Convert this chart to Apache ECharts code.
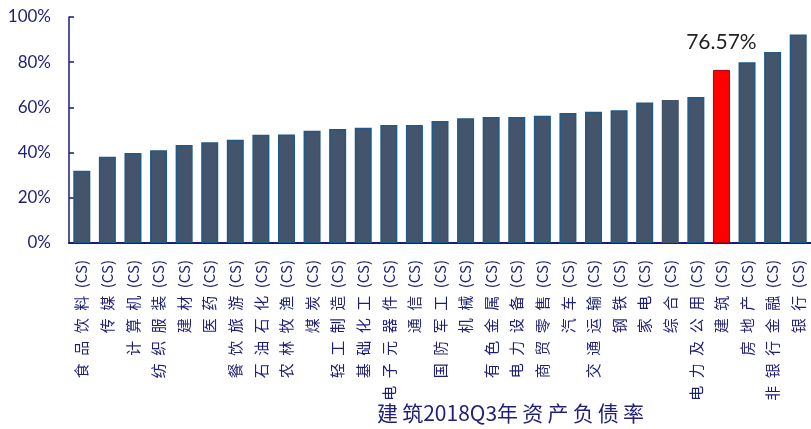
<!DOCTYPE html>
<html>
<head>
<meta charset="utf-8">
<script src="https://cdn.jsdelivr.net/npm/echarts@6/dist/echarts.min.js"></script>
<style>
  html, body { margin: 0; padding: 0; background: #fff; }
  #chart { width: 811px; height: 429px; }
</style>
</head>
<body>
<div id="chart"></div>
<script>
// 行业名称
const categories = [
  '食品饮料(CS)', '传媒(CS)', '计算机(CS)', '纺织服装(CS)', '建材(CS)', '医药(CS)',
  '餐饮旅游(CS)', '石油石化(CS)', '农林牧渔(CS)', '煤炭(CS)', '轻工制造(CS)', '基础化工(CS)',
  '电子元器件(CS)', '通信(CS)', '国防军工(CS)', '机械(CS)', '有色金属(CS)', '电力设备(CS)',
  '商贸零售(CS)', '汽车(CS)', '交通运输(CS)', '钢铁(CS)', '家电(CS)', '综合(CS)',
  '电力及公用(CS)', '建筑(CS)', '房地产(CS)', '非银行金融(CS)', '银行(CS)'
];
// 资产负债率 (%)
const debtRatio = [
  32.0, 38.2, 39.8, 41.0, 43.4, 44.6,
  45.7, 47.9, 48.0, 49.7, 50.4, 51.0,
  52.2, 52.2, 54.0, 55.2, 55.7, 55.7,
  56.3, 57.5, 58.1, 58.7, 62.2, 63.3,
  64.6, 76.57, 80.0, 84.5, 92.3
];
const yTicks = [0, 20, 40, 60, 80, 100];
const axisTitle = '建筑2018Q3年资产负债率';
const highlightName = '建筑(CS)';
const plainName = '综合(CS)';

const navy = '#1f1f7a';
const sp = '\u2002';
const thin = '\u2009';

// 中文字之间加一点间距
const spaceCjk = (s, gap) => s.replace(/([\u4e00-\u9fa5])(?=[\u4e00-\u9fa5])/g, '$1' + gap);

const chart = echarts.init(document.getElementById('chart'));

const barData = categories.map((name, i) => {
  if (name === highlightName) {
    return {
      value: debtRatio[i],
      itemStyle: { color: '#ff0000', borderColor: '#b00000', borderWidth: 1 },
      label: {
        show: true,
        position: 'top',
        distance: 17,
        formatter: (p) => p.value.toFixed(2) + '%',
        color: '#222',
        fontSize: 21,
        fontFamily: 'Lato, sans-serif',
      },
    };
  }
  if (name === plainName) {
    return { value: debtRatio[i], itemStyle: { borderWidth: 0 } };
  }
  return debtRatio[i];
});

const option = {
  animation: false,
  grid: {
    left: 69,
    top: 17,
    width: 745,
    height: 226,
  },
  title: {
    text: spaceCjk(axisTitle, thin),
    left: 377,
    top: 403,
    padding: 0,
    textStyle: {
      color: navy,
      fontSize: 21,
      fontWeight: 'normal',
      fontFamily: '"Noto Sans CJK SC", sans-serif',
    },
  },
  xAxis: {
    type: 'category',
    data: categories,
    axisLine: { lineStyle: { color: '#1a1a80', width: 2 } },
    axisTick: { inside: true, length: 6, lineStyle: { color: '#1a1a80', width: 1.5 } },
    axisLabel: {
      rotate: 90,
      interval: 0,
      margin: 17,
      color: navy,
      fontSize: 15,
      fontFamily: '"Noto Sans CJK SC", sans-serif',
      formatter: (name) => name.replace('(CS)', '').split('').join(sp) + sp + '(CS)',
    },
  },
  yAxis: {
    type: 'value',
    min: yTicks[0],
    max: yTicks[yTicks.length - 1],
    interval: 20,
    splitLine: { show: false },
    axisLine: { show: true, lineStyle: { color: '#1a1a80', width: 1.5 } },
    axisTick: { show: true, inside: true, length: 5, lineStyle: { color: '#1a1a80', width: 1.5 } },
    axisLabel: {
      margin: 18,
      color: navy,
      fontSize: 17,
      fontFamily: 'Lato, sans-serif',
      formatter: '{value}%',
    },
  },
  series: [
    {
      type: 'bar',
      barWidth: 17,
      data: barData,
      itemStyle: {
        color: '#44546a',
        borderColor: '#1d5a8a',
        borderWidth: 1.5,
      },
    },
  ],
};

chart.setOption(option);
</script>
</body>
</html>
